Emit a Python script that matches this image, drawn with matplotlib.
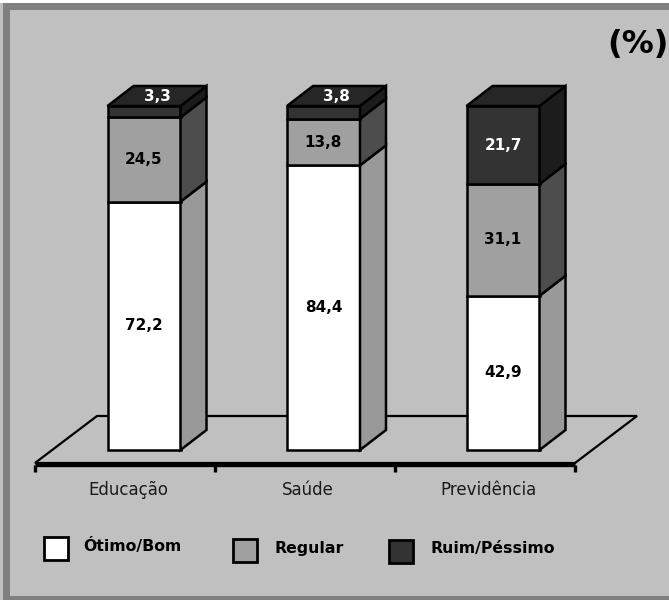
import matplotlib
matplotlib.use("Agg")
import matplotlib.pyplot as plt
from matplotlib.patches import Polygon, Rectangle
from matplotlib import font_manager as fm

categories = ["Educação", "Saúde", "Previdência"]
series_names = ["Ótimo/Bom", "Regular", "Ruim/Péssimo"]
otimo_bom = [72.2, 84.4, 42.9]
regular = [24.5, 13.8, 31.1]
ruim_pessimo = [3.3, 3.8, 21.7]
value_labels = [["72,2", "84,4", "42,9"],
                ["24,5", "13,8", "31,1"],
                ["3,3", "3,8", "21,7"]]

series = [otimo_bom, regular, ruim_pessimo]
front_colors = ["#ffffff", "#a0a0a0", "#333333"]
side_colors = ["#999999", "#4d4d4d", "#1c1c1c"]
top_colors = ["#d9d9d9", "#808080", "#262626"]
text_colors = ["#000000", "#000000", "#ffffff"]

available = {f.name for f in fm.fontManager.ttflist}
narrow = "Liberation Sans Narrow" if "Liberation Sans Narrow" in available else "DejaVu Sans"

W, H, DPI = 669, 600, 100
fig = plt.figure(figsize=(W / DPI, H / DPI), dpi=DPI, facecolor="#c0c0c0")

# frame drawn in pixel units
frame = fig.add_axes([0, 0, 1, 1])
frame.set_xlim(0, W)
frame.set_ylim(H, 0)
frame.axis("off")
frame.add_patch(Rectangle((0, 0), W, 3, facecolor="white", edgecolor="none"))
frame.add_patch(Rectangle((3, 3), W, 7, facecolor="#808080", edgecolor="none"))
frame.add_patch(Rectangle((3, 3), 7, H, facecolor="#808080", edgecolor="none"))
frame.add_patch(Rectangle((3, 596), W, 4, facecolor="#808080", edgecolor="none"))

# chart axes: x in category units, y in percent of each bar's total
px_x = 179.5   # pixels per category
px_y = 3.44    # pixels per percentage point
x0_px, y0_px = 144.0, 450.0
ax = fig.add_axes([0, 0, 1, 1])
ax.set_xlim(-x0_px / px_x, (W - x0_px) / px_x)
ax.set_ylim(-(H - y0_px) / px_y, y0_px / px_y)
ax.axis("off")

bar_w = 73 / px_x
ddx = 26 / px_x
ddy = 20 / px_y
lw = 1.8

# floor
fl_front = -13 / px_y
fl_back = 34 / px_y
fl_left = (35 - x0_px) / px_x
fl_right = (575 - x0_px) / px_x
fl_dx = 62 / px_x
ax.add_patch(Polygon([(fl_left, fl_front), (fl_right, fl_front),
                      (fl_right + fl_dx, fl_back), (fl_left + fl_dx, fl_back)],
                     closed=True, facecolor="#c0c0c0", edgecolor="black",
                     linewidth=1.6, zorder=1))

# axis line and ticks
ax.plot([fl_left, fl_right], [fl_front - 0.5, fl_front - 0.5], color="black",
        linewidth=2.4, solid_capstyle="butt", zorder=2)
n = len(categories)
for k in range(n + 1):
    xt = fl_left + (fl_right - fl_left) * k / n
    ax.plot([xt, xt], [fl_front - 0.5, fl_front - 2.6], color="black",
            linewidth=2.4, solid_capstyle="butt", zorder=2)
for k, cat in enumerate(categories):
    xc = fl_left + (fl_right - fl_left) * (k + 0.5) / n + 3 / px_x
    ax.text(xc, fl_front - 7.8, cat, ha="center", va="center", fontsize=12,
            family=[narrow, "DejaVu Sans"], color="#1a1a1a", zorder=3)

# 100% stacked 3D bars
for i in range(n):
    total = sum(vals[i] for vals in series)
    xl = i - bar_w / 2
    xr = i + bar_w / 2
    base = 0.0
    for s, vals in enumerate(series):
        v = vals[i] / total * 100.0
        top = base + v
        z = 5 + i * 10 + s
        ax.add_patch(Polygon([(xl, base), (xr, base), (xr, top), (xl, top)],
                             closed=True, facecolor=front_colors[s],
                             edgecolor="black", linewidth=lw, zorder=z,
                             joinstyle="miter"))
        ax.add_patch(Polygon([(xr, base), (xr + ddx, base + ddy),
                              (xr + ddx, top + ddy), (xr, top)],
                             closed=True, facecolor=side_colors[s],
                             edgecolor="black", linewidth=lw, zorder=z,
                             joinstyle="miter"))
        if s == len(series) - 1:
            ax.add_patch(Polygon([(xl, top), (xr, top), (xr + ddx, top + ddy),
                                  (xl + ddx, top + ddy)],
                                 closed=True, facecolor=top_colors[s],
                                 edgecolor="black", linewidth=lw, zorder=z,
                                 joinstyle="miter"))
        if v < 6:
            tx, ty = i + ddx / 2, top + ddy / 2
        else:
            tx, ty = i, base + v / 2
        ax.text(tx, ty, value_labels[s][i], ha="center", va="center",
                fontsize=11, fontweight="bold", family="DejaVu Sans",
                color=text_colors[s], zorder=z + 5)
        base = top

# unit marker
frame.text(638, 45, "(%)", ha="center", va="center", fontsize=23,
           fontweight="bold", family=[narrow, "DejaVu Sans"], color="black")

# legend
legend_boxes = [(44, 537), (233, 539), (389, 540)]
legend_text_x = [83, 275, 430]
for s, name in enumerate(series_names):
    bx, by = legend_boxes[s]
    frame.add_patch(Rectangle((bx, by), 24, 23, facecolor=front_colors[s],
                              edgecolor="black", linewidth=2.0))
    frame.text(legend_text_x[s], by + 9, name, ha="left", va="center",
               fontsize=11.3, fontweight="bold", family=[narrow, "DejaVu Sans"],
               color="black")

fig.savefig("out.png", dpi=DPI, facecolor=fig.get_facecolor())
